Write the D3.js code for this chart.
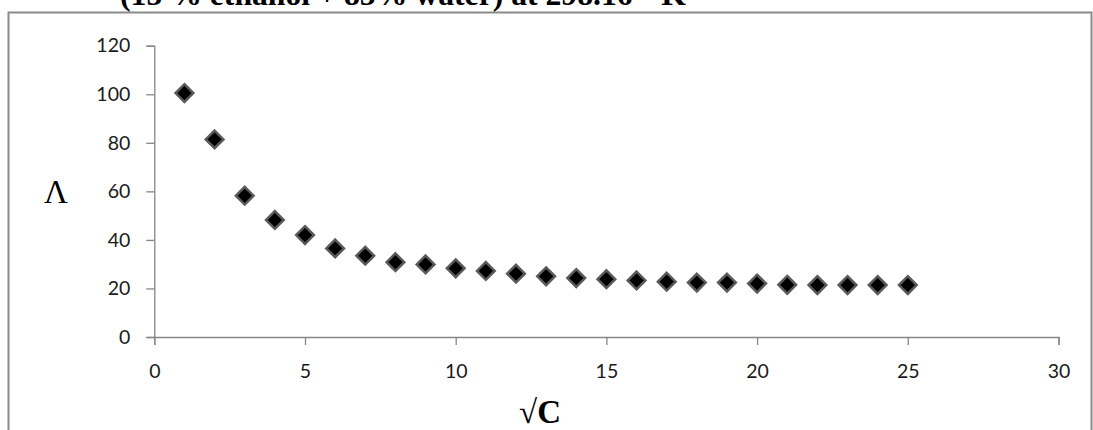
<!DOCTYPE html>
<html>
<head>
<meta charset="utf-8">
<script src="https://cdn.jsdelivr.net/npm/d3@7"></script>
<style>
  html, body { margin: 0; padding: 0; background: #fff; }
  svg { display: block; }
</style>
</head>
<body>
<svg id="chart" width="1093" height="430"></svg>
<script>
// Square root of concentration (x) and equivalent conductance Λ (y)
const sqrtC = [1, 2, 3, 4, 5, 6, 7, 8, 9, 10, 11, 12, 13, 14, 15, 16, 17, 18, 19, 20, 21, 22, 23, 24, 25];
const lambda = [100.5, 81.4, 58.2, 48.2, 42.0, 36.5, 33.5, 30.8, 29.9, 28.3, 27.2, 26.1, 25.0, 24.3,
                23.8, 23.3, 22.8, 22.4, 22.4, 22.0, 21.5, 21.4, 21.4, 21.4, 21.4];
const xTicks = [0, 5, 10, 15, 20, 25, 30];
const yTicks = [0, 20, 40, 60, 80, 100, 120];
const titleText = "(15 % ethanol + 85% water) at 298.16 ° K";

const svg = d3.select("#chart");
const axisColor = "#868686";
const tickFont = "Lato, 'Open Sans', sans-serif";
const serif = "'Liberation Serif', 'Times New Roman', serif";

// chart frame
svg.append("rect")
  .attr("x", 8.5).attr("y", 12.5)
  .attr("width", 1083).attr("height", 440)
  .attr("fill", "none").attr("stroke", "#8a8a8a").attr("stroke-width", 2);

// title (upper part runs off the top edge); sized to span its slot
const title = svg.append("text")
  .attr("x", 120).attr("y", 5)
  .attr("font-family", serif)
  .attr("font-weight", "bold").attr("font-size", 20)
  .attr("fill", "#000")
  .text(titleText);
const tw = title.node().getComputedTextLength();
title.attr("font-size", 20 * 566 / tw);

const x = d3.scaleLinear().domain([0, 30]).range([154.3, 1058.5]);
const y = d3.scaleLinear().domain([0, 120]).range([337, 45.7]);

// y axis
const yAxis = svg.append("g")
  .attr("transform", `translate(${x(0)},0)`)
  .call(d3.axisLeft(y).tickValues(yTicks).tickSize(8).tickPadding(16).tickFormat(d3.format("d")));
yAxis.select(".domain").attr("stroke", axisColor).attr("stroke-width", 1.3);
yAxis.selectAll(".tick line").attr("stroke", axisColor).attr("stroke-width", 1.3);
yAxis.selectAll(".tick text")
  .attr("font-family", tickFont).attr("font-size", 19.5).attr("fill", "#1a1a1a");

// x axis
const xAxis = svg.append("g")
  .attr("transform", `translate(0,${y(0)})`)
  .call(d3.axisBottom(x).tickValues(xTicks).tickSize(8).tickPadding(19).tickFormat(d3.format("d")));
xAxis.select(".domain").attr("stroke", axisColor).attr("stroke-width", 1.3);
xAxis.selectAll(".tick line").attr("stroke", axisColor).attr("stroke-width", 1.3);
xAxis.selectAll(".tick text")
  .attr("font-family", tickFont).attr("font-size", 19.5).attr("fill", "#1a1a1a");

// axis titles
svg.append("text")
  .attr("x", 56).attr("y", 203)
  .attr("text-anchor", "middle")
  .attr("font-family", serif)
  .attr("font-size", 33)
  .text("Λ");

const xt = svg.append("text")
  .attr("x", 540).attr("y", 423)
  .attr("text-anchor", "middle")
  .attr("font-family", serif)
  .attr("font-size", 33);
xt.append("tspan").text("√");
xt.append("tspan").attr("font-weight", "bold").text("C");

// soft edge for the markers
const defs = svg.append("defs");
defs.append("filter").attr("id", "soft")
  .append("feGaussianBlur").attr("stdDeviation", 0.6);

const diamond = d3.symbol().type(d3.symbolDiamond2).size(200);

svg.append("g").selectAll("path")
  .data(sqrtC.map((c, i) => [c, lambda[i]]))
  .join("path")
  .attr("d", diamond)
  .attr("transform", d => `translate(${x(d[0])},${y(d[1])})`)
  .attr("fill", "#000")
  .attr("stroke", "#5a5a5a")
  .attr("stroke-width", 2.5)
  .attr("filter", "url(#soft)");
</script>
</body>
</html>
